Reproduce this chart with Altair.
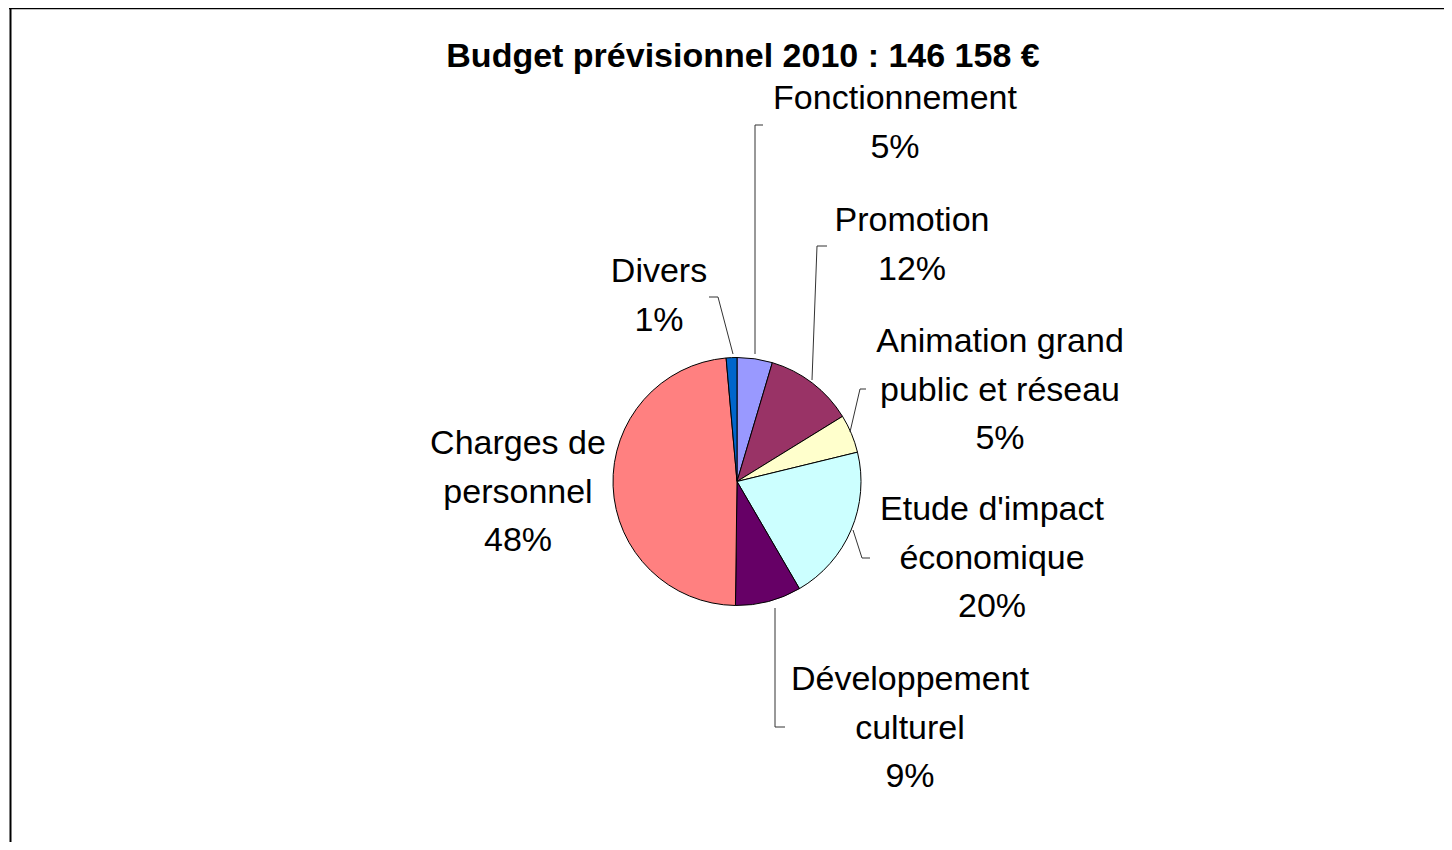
import altair as alt
import pandas as pd

# ---- data ----
categories = ["Fonctionnement", "Promotion", "Animation grand public et réseau",
              "Etude d'impact économique", "Développement culturel",
              "Charges de personnel", "Divers"]
shares = [4.6, 11.6, 5.0, 20.4, 8.6, 48.4, 1.4]
label_names = [["Fonctionnement"], ["Promotion"], ["Animation grand", "public et réseau"],
               ["Etude d'impact", "économique"], ["Développement", "culturel"],
               ["Charges de", "personnel"], ["Divers"]]
colors = ["#9999FF", "#993366", "#FFFFCC", "#CCFFFF", "#660066", "#FF8080", "#0066CC"]
title_text = "Budget prévisionnel 2010 : 146 158 €"

# ---- layout (chart pixel coordinates; page = chart + 8) ----
W, H = 1436, 834
CX, CY, R = 729, 473.5, 124
LH = 48.5
label_anchor = [(887, 91), (904, 213), (992, 334), (984, 502), (902, 672), (510, 436), (651, 264)]
leaders = [
    [(747, 346), (747, 117), (755, 117)],
    [(804, 372), (809, 238), (819, 238)],
    [(842, 424), (852, 381), (858, 381)],
    [(845, 522), (854, 550), (862, 550)],
    [(767, 600), (767, 719), (777, 719)],
    None,
    [(725, 346), (710, 289), (701, 289)],
]
FONT = "Liberation Sans"

pie_df = pd.DataFrame({"category": categories, "share": shares, "idx": list(range(len(categories)))})

rows = []
for i, (names, s) in enumerate(zip(label_names, shares)):
    lines = names + [f"{round(s)}%"]
    ax, ay = label_anchor[i]
    for j, t in enumerate(lines):
        rows.append({"x": ax, "y": ay + j * LH, "text": t})
text_df = pd.DataFrame(rows)

lrows = []
for i, pts in enumerate(leaders):
    if pts is None:
        continue
    for k, (px, py) in enumerate(pts):
        lrows.append({"g": i, "k": k, "x": px, "y": py})
lead_df = pd.DataFrame(lrows)

pie = alt.Chart(pie_df).mark_arc(stroke="black", strokeWidth=1, outerRadius=R).encode(
    theta=alt.Theta("share:Q", stack=True),
    order=alt.Order("idx:Q"),
    color=alt.Color("category:N", scale=alt.Scale(domain=categories, range=colors), legend=None),
    x=alt.value(CX),
    y=alt.value(CY),
)

labels = alt.Chart(text_df).mark_text(font=FONT, fontSize=34, align="center", baseline="middle", color="black").encode(
    x=alt.X("x:Q", scale=None, axis=None),
    y=alt.Y("y:Q", scale=None, axis=None),
    text="text:N",
)

lead = alt.Chart(lead_df).mark_line(color="#333333", strokeWidth=1).encode(
    x=alt.X("x:Q", scale=None, axis=None),
    y=alt.Y("y:Q", scale=None, axis=None),
    detail="g:N",
    order="k:Q",
)

title = alt.Chart(pd.DataFrame({"t": [title_text]})).mark_text(
    font=FONT, fontSize=34, fontWeight="bold", align="center", baseline="middle", color="black"
).encode(x=alt.value(735), y=alt.value(49), text="t:N")

frame_df = pd.DataFrame({"a": [0]})
top_rule = alt.Chart(frame_df).mark_rule(color="black", strokeWidth=1.5).encode(
    x=alt.value(1), x2=alt.value(W), y=alt.value(0.5))
left_rule = alt.Chart(frame_df).mark_rule(color="black", strokeWidth=2).encode(
    x=alt.value(2.5), y=alt.value(0), y2=alt.value(H))

chart = alt.layer(pie, lead, labels, title, top_rule, left_rule).properties(
    width=W, height=H, padding=0, autosize=alt.AutoSizeParams(type="none")
).configure_view(stroke=None)

chart.save("out.html", embed_options={"renderer": "svg", "actions": False})
